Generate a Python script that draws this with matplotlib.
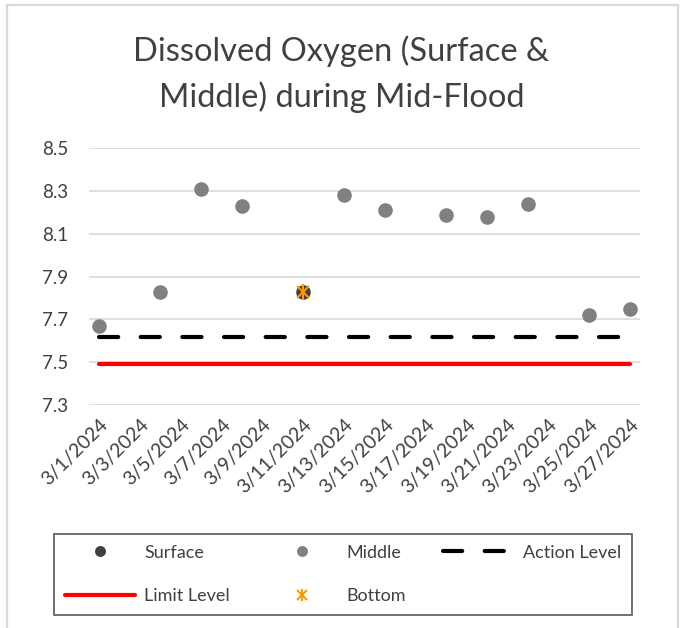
import datetime as dt
import matplotlib
matplotlib.use('Agg')
import matplotlib.pyplot as plt
from matplotlib.lines import Line2D
from matplotlib.legend_handler import HandlerTuple

plt.rcParams['font.family'] = ['Lato', 'DejaVu Sans']

# data
middle_days = [1, 4, 6, 8, 13, 15, 18, 20, 22, 25, 27]
middle_do = [7.67, 7.83, 8.31, 8.23, 8.28, 8.21, 8.19, 8.18, 8.24, 7.72, 7.75]
surface_days = [11]
surface_do = [7.83]
bottom_days = [11]
bottom_do = [7.83]
level_days = [1, 27]
action_level = 7.62
limit_level = 7.49
tick_days = list(range(1, 28, 2))
y_ticks = [7.3, 7.5, 7.7, 7.9, 8.1, 8.3, 8.5]


def day(d):
    return dt.datetime(2024, 3, d)


fig = plt.figure(figsize=(6.83, 6.28), dpi=100)
ax = fig.add_axes([0.130, 0.355, 0.807, 0.409])

txt = '#404040'
orange = '#ff9900'

ax.plot([day(d) for d in level_days], [limit_level] * 2, color='#ff0000', lw=3,
        solid_capstyle='round', label='Limit Level', zorder=2)
ax.plot([day(d) for d in level_days], [action_level] * 2, color='black', lw=3,
        dashes=(4.6, 5.4), dash_capstyle='round', label='Action Level', zorder=2)
ax.plot([day(d) for d in middle_days], middle_do, 'o', color='#808080', ms=10.5,
        mec='none', label='Middle', zorder=3)
ax.plot([day(d) for d in surface_days], surface_do, 'o', color='#404040', ms=10.5,
        mec='none', label='Surface', zorder=4)
bx, = ax.plot([day(d) for d in bottom_days], bottom_do, ls='none', marker='x',
              color=orange, ms=9, mew=1.5, zorder=5)
bv, = ax.plot([day(d) for d in bottom_days], bottom_do, ls='none', marker='|',
              color=orange, ms=12, mew=1.5, zorder=5)

ax.set_xlim(day(1) - dt.timedelta(hours=12), day(27) + dt.timedelta(hours=12))
ax.set_ylim(7.3, 8.5)
ax.set_yticks(y_ticks)
ax.set_yticklabels(['%.1f' % v for v in y_ticks])
ax.set_xticks([day(d) for d in tick_days])
ax.set_xticklabels(['%d/%d/%d' % (3, d, 2024) for d in tick_days])
plt.setp(ax.get_xticklabels(), rotation=45, ha='right', va='top',
         rotation_mode='anchor')

ax.grid(axis='y', color='#d9d9d9', lw=1.2)
ax.set_axisbelow(True)
for s in ax.spines.values():
    s.set_visible(False)
ax.tick_params(length=0, labelsize=13.5, labelcolor=txt)
ax.tick_params(axis='x', labelsize=14, pad=8)
ax.tick_params(axis='y', pad=15)

fig.text(0.5, 0.882, 'Dissolved Oxygen (Surface &\nMiddle) during Mid-Flood',
         ha='center', va='center', fontsize=23.5, color=txt, linespacing=1.55)

h, l = ax.get_legend_handles_labels()
hd = dict(zip(l, h))
hd['Bottom'] = (bx, bv)
order = ['Surface', 'Limit Level', 'Middle', 'Bottom', 'Action Level']
leg = fig.legend([hd[k] for k in order], order, ncol=3, loc='center',
                 bbox_to_anchor=(0.079, 0.020, 0.846, 0.131),
                 bbox_transform=fig.transFigure, mode='expand',
                 handler_map={tuple: HandlerTuple(ndivide=1, pad=0)},
                 fontsize=13, frameon=True, fancybox=False, borderaxespad=0,
                 handlelength=3.9, handletextpad=0.5, labelspacing=1.5,
                 borderpad=0.6, columnspacing=1.2, labelcolor=txt,
                 markerscale=0.75)
leg.get_frame().set_edgecolor('#404040')
leg.get_frame().set_linewidth(1.3)

# outer chart border (bottom edge cut off in the reference)
bc = '#d9d9d9'
fig.add_artist(Line2D([0.0103, 0.0103], [0, 0.992], color=bc, lw=1.6))
fig.add_artist(Line2D([0.0103, 0.993], [0.992, 0.992], color=bc, lw=1.6))
fig.add_artist(Line2D([0.993, 0.993], [0, 0.992], color=bc, lw=1.6))

fig.savefig('out.png', dpi=100)
